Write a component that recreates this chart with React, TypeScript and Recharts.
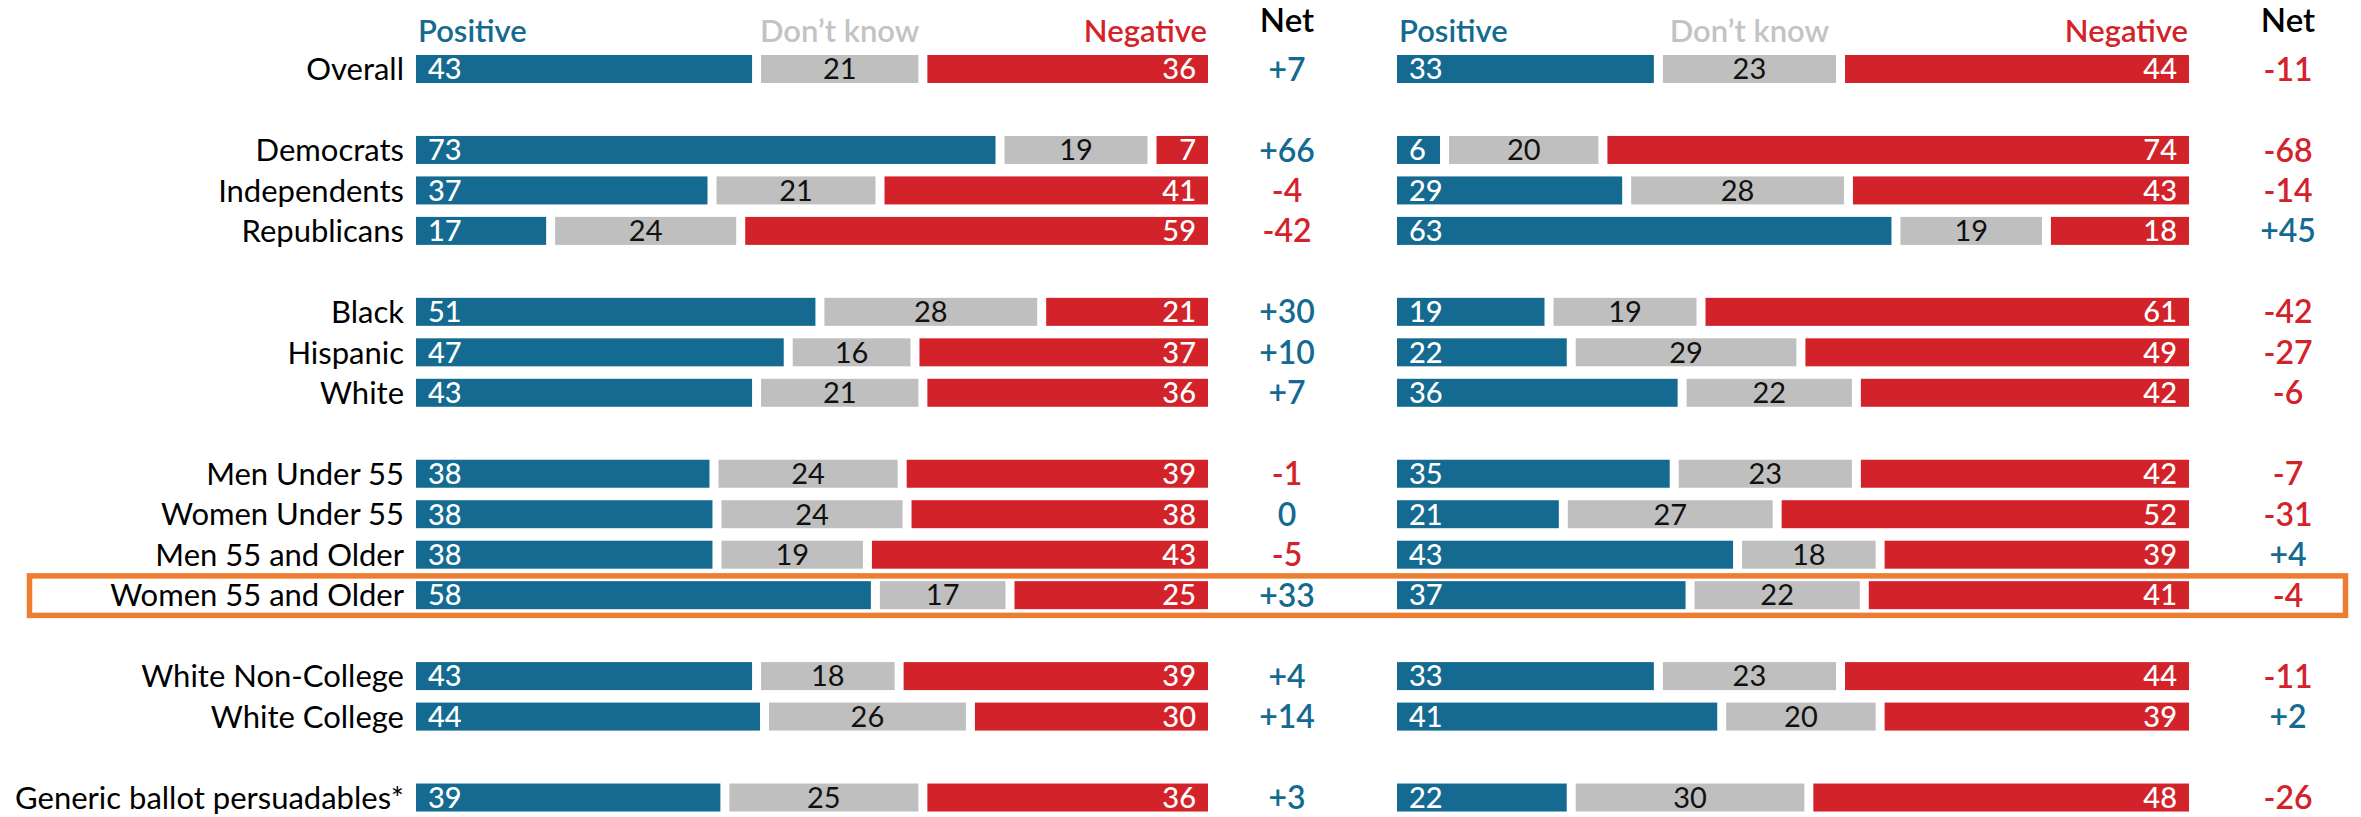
import { BarChart, Bar, XAxis, YAxis, LabelList } from 'recharts'

const BLUE = '#146a90'
const GRAY = '#bfbfbf'
const RED = '#d3232a'
const ORANGE = '#ed7d31'
const FONT = 'Lato, "Open Sans", sans-serif'

// null = blank spacer row between groups
const categories = [
  'Overall', null,
  'Democrats', 'Independents', 'Republicans', null,
  'Black', 'Hispanic', 'White', null,
  'Men Under 55', 'Women Under 55', 'Men 55 and Older', 'Women 55 and Older', null,
  'White Non-College', 'White College', null,
  'Generic ballot persuadables*',
]
const highlighted = 'Women 55 and Older'

const leftPositive = [43, 73, 37, 17, 51, 47, 43, 38, 38, 38, 58, 43, 44, 39]
const leftDontKnow = [21, 19, 21, 24, 28, 16, 21, 24, 24, 19, 17, 18, 26, 25]
const leftNegative = [36, 7, 41, 59, 21, 37, 36, 39, 38, 43, 25, 39, 30, 36]
const leftNet = [7, 66, -4, -42, 30, 10, 7, -1, 0, -5, 33, 4, 14, 3]

const rightPositive = [33, 6, 29, 63, 19, 22, 36, 35, 21, 43, 37, 33, 41, 22]
const rightDontKnow = [23, 20, 28, 19, 19, 29, 22, 23, 27, 18, 22, 23, 20, 30]
const rightNegative = [44, 74, 43, 18, 61, 49, 42, 42, 52, 39, 41, 44, 39, 48]
const rightNet = [-11, -68, -14, 45, -42, -27, -6, -7, -31, 4, -4, -11, 2, -26]

const W = 2361
const H = 817
const TOP = 49
const BOTTOM = 2
const CHART_H = 820
const LABEL_W = 416
const PLOT_W = 792
const RIGHT_X = 1397
const BAND = (CHART_H - TOP - BOTTOM) / categories.length

type Row = { id: string; name: string; pos: number | null; dk: number | null; neg: number | null; net: number | null }

function buildRows(pos: number[], dk: number[], neg: number[], net: number[]): Row[] {
  let k = 0
  return categories.map((name, i) => {
    if (name === null) return { id: `gap${i}`, name: '', pos: null, dk: null, neg: null, net: null }
    const r = { id: name, name, pos: pos[k], dk: dk[k], neg: neg[k], net: net[k] }
    k++
    return r
  })
}

const leftRows = buildRows(leftPositive, leftDontKnow, leftNegative, leftNet)
const rightRows = buildRows(rightPositive, rightDontKnow, rightNegative, rightNet)

// white gap between the stacked segments
const segment = (padL: number, padR: number) => (props: any) => {
  const { x, y, width, height, fill } = props
  const w = width - padL - padR
  if (!(w > 0)) return <g />
  return <rect x={x + padL} y={y} width={w} height={height} fill={fill} />
}

const fmt = (v: any) => (v === null || v === undefined ? '' : v)

function netTick(rows: Row[], offset: number) {
  return (props: any) => {
    const { x, y, index } = props
    const v = rows[index]?.net
    if (v === null || v === undefined) return <g />
    return (
      <text
        x={x + offset}
        y={y}
        dy="0.355em"
        textAnchor="middle"
        fontSize={32}
        fontWeight={600}
        fontFamily={FONT}
        fill={v < 0 ? RED : BLUE}
      >
        {v > 0 ? `+${v}` : `${v}`}
      </text>
    )
  }
}

function Panel({ rows, showLabels, netWidth, netOffset }: { rows: Row[]; showLabels: boolean; netWidth: number; netOffset: number }) {
  const width = (showLabels ? LABEL_W : 0) + PLOT_W + netWidth
  return (
    <BarChart
      width={width}
      height={CHART_H}
      data={rows}
      layout="vertical"
      stackOffset="expand"
      margin={{ top: TOP, right: 0, bottom: BOTTOM, left: 0 }}
    >
      <XAxis type="number" hide domain={[0, 1]} />
      <YAxis
        type="category"
        dataKey="id"
        hide={!showLabels}
        width={LABEL_W}
        axisLine={false}
        tickLine={false}
        tickSize={0}
        tickMargin={12}
        interval={0}
        tickFormatter={(id: string) => (id.startsWith('gap') ? '' : id)}
        tick={{ fill: '#000', fontSize: 31, fontFamily: FONT }}
      />
      <YAxis
        yAxisId="net"
        orientation="right"
        type="category"
        dataKey="id"
        width={netWidth}
        axisLine={false}
        tickLine={false}
        tickSize={0}
        tickMargin={0}
        interval={0}
        tick={netTick(rows, netOffset)}
      />
      <Bar dataKey="pos" stackId="a" fill={BLUE} barSize={28} shape={segment(0, 4.5)} isAnimationActive={false}>
        <LabelList dataKey="pos" position="insideLeft" offset={12} formatter={fmt} fill="#fff" fontSize={29} fontWeight={500} fontFamily={FONT} />
      </Bar>
      <Bar dataKey="dk" stackId="a" fill={GRAY} barSize={28} shape={segment(4.5, 4.5)} isAnimationActive={false}>
        <LabelList dataKey="dk" position="center" formatter={fmt} fill="#111" fontSize={29} fontFamily={FONT} />
      </Bar>
      <Bar dataKey="neg" stackId="a" fill={RED} barSize={28} shape={segment(4.5, 0)} isAnimationActive={false}>
        <LabelList dataKey="neg" position="insideRight" offset={12} formatter={fmt} fill="#fff" fontSize={29} fontWeight={500} fontFamily={FONT} />
      </Bar>
    </BarChart>
  )
}

function Headers({ left, net, overall }: { left: number; net: number; overall: Row }) {
  const total = (overall.pos ?? 0) + (overall.dk ?? 0) + (overall.neg ?? 0)
  const dkCenter = left + (((overall.pos ?? 0) + (overall.dk ?? 0) / 2) / total) * PLOT_W
  return (
    <g fontFamily={FONT} fontSize={31} fontWeight={600}>
      <text x={left + 2} y={42} fill={BLUE}>Positive</text>
      <text x={dkCenter} y={42} fill="#c3c3c3" textAnchor="middle">Don’t know</text>
      <text x={left + PLOT_W - 1} y={42} fill={RED} textAnchor="end">Negative</text>
      <text x={net} y={32} fill="#000" textAnchor="middle" fontSize={33}>Net</text>
    </g>
  )
}

export default function App() {
  const hiIdx = categories.indexOf(highlighted)
  const hiCenter = TOP + (hiIdx + 0.5) * BAND
  return (
    <div style={{ position: 'absolute', left: 0, top: 0, width: W, height: H, overflow: 'hidden', background: '#fff' }}>
      <div style={{ position: 'absolute', left: 0, top: 0 }}>
        <Panel rows={leftRows} showLabels netWidth={160} netOffset={79} />
      </div>
      <div style={{ position: 'absolute', left: RIGHT_X, top: 0 }}>
        <Panel rows={rightRows} showLabels={false} netWidth={172} netOffset={99} />
      </div>
      <svg width={W} height={H} style={{ position: 'absolute', left: 0, top: 0, pointerEvents: 'none' }}>
        <Headers left={LABEL_W} net={LABEL_W + PLOT_W + 79} overall={leftRows[0]} />
        <Headers left={RIGHT_X} net={RIGHT_X + PLOT_W + 99} overall={rightRows[0]} />
        <rect x={29.5} y={hiCenter - 19.5} width={2316} height={39.5} fill="none" stroke={ORANGE} strokeWidth={5.5} />
      </svg>
    </div>
  )
}
